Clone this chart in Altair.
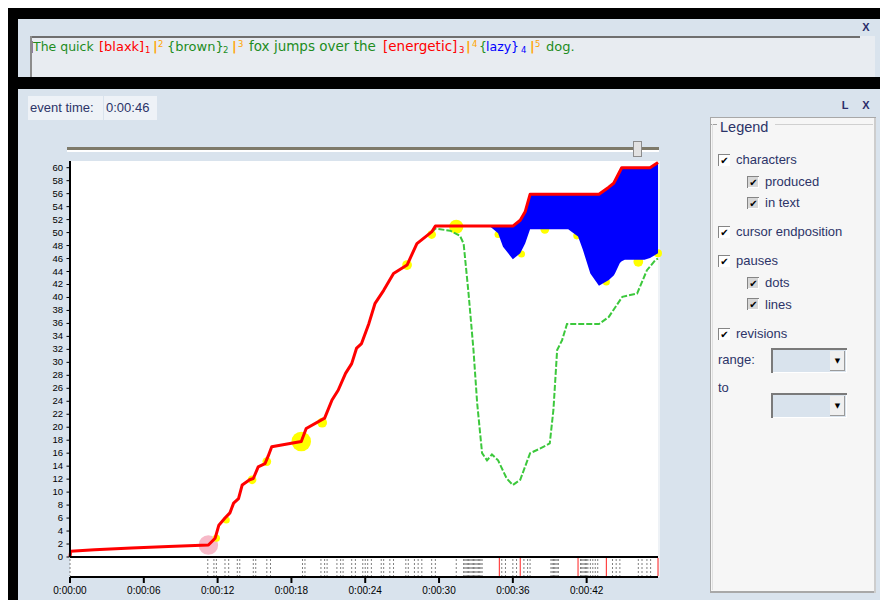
import altair as alt
import pandas as pd

# ---------------- chart values ----------------
# characters produced (red line): time [s], number of characters
produced_t = [0.0, 0.05, 2.0, 5.0, 8.0, 11.25, 11.8, 12.1, 12.6, 13.0, 13.3, 13.7, 14.0, 14.6, 14.9,
              15.3, 15.85, 16.1, 16.4, 18.8, 19.2, 20.7, 21.3, 21.8, 22.4, 22.9, 23.3, 23.7, 24.3,
              24.8, 25.5, 26.3, 27.4, 28.2, 29.4, 29.7, 36.0, 36.6, 37.0, 37.4, 43.0, 43.8, 44.2,
              44.85, 47.15, 47.8]
produced_v = [0.0, 0.9, 1.1, 1.4, 1.6, 1.85, 2.9, 4.9, 6.0, 6.8, 8.3, 9.0, 11.1, 11.9, 12.1,
              13.9, 14.4, 15.5, 17.0, 17.8, 19.8, 21.4, 24.2, 25.7, 28.3, 29.8, 32.2, 32.9, 36.0,
              39.1, 41.1, 43.7, 45.0, 48.3, 50.1, 51.0, 51.0, 51.9, 53.2, 55.9, 55.9, 57.0, 57.6,
              60.0, 60.0, 60.8]

# revisions (blue band between characters produced and characters in text)
revision_t = [34.1, 34.8, 35.2, 36.0, 36.6, 37.0, 37.4, 40.5, 41.3, 41.7, 42.3, 43.0, 43.8, 44.2,
              44.3, 44.7, 44.85, 45.1, 46.7, 47.15, 47.8]
revision_produced = [51.0, 51.0, 51.0, 51.0, 51.9, 53.2, 55.9, 55.9, 55.9, 55.9, 55.9, 55.9, 57.0,
                     57.6, 57.9, 59.5, 60.0, 60.0, 60.0, 60.0, 60.8]
revision_in_text = [51.0, 49.9, 47.8, 45.9, 46.8, 48.3, 50.5, 50.5, 49.4, 47.3, 43.7, 41.8, 42.7,
                    43.4, 43.7, 45.3, 45.6, 45.8, 45.8, 46.1, 46.8]

# cursor end position (green dashed line)
cursor_t = [29.4, 29.7, 30.9, 31.7, 32.0, 32.4, 32.8, 33.1, 33.5, 33.9, 34.3, 34.8, 35.5, 36.0,
            36.6, 37.4, 38.2, 39.0, 39.3, 39.6, 40.0, 40.4, 43.0, 43.8, 44.9, 46.1, 46.9, 47.6, 47.8]
cursor_v = [50.1, 50.6, 50.3, 49.5, 48.3, 40.6, 31.9, 23.7, 16.0, 14.9, 15.8, 14.9, 12.1, 11.1,
            11.9, 16.0, 16.7, 17.5, 22.7, 31.9, 33.4, 35.9, 35.9, 37.0, 40.1, 40.6, 44.2, 45.8, 46.0]

# pauses (yellow dots): time, level, pause length [s]
pause_t = [11.9, 12.7, 14.8, 16.0, 18.8, 20.5, 27.4, 29.4, 31.4, 34.8, 36.7, 38.6, 41.2, 43.6, 46.2, 47.8]
pause_v = [2.9, 5.7, 11.9, 14.7, 17.8, 20.7, 45.0, 49.7, 50.9, 49.7, 46.7, 50.5, 49.5, 42.4, 45.5, 46.8]
pause_s = [0.8, 0.8, 1.2, 1.2, 6.0, 1.5, 1.5, 1.2, 3.2, 0.8, 0.8, 1.2, 0.8, 0.8, 1.5, 1.0]

# initial pause (pink dot)
start_pause_t = [11.25]
start_pause_v = [1.85]
start_pause_s = [6.0]

# keystrokes shown in the strip below the plot
key_t = [0.0, 11.2, 11.7, 11.9, 12.6, 12.9, 13.6, 13.8, 14.9, 15.1, 16.0, 16.3, 18.9, 19.1,
         20.4, 20.7, 20.9, 21.7, 22.0, 22.2, 22.9, 23.2, 23.8, 24.0, 24.2, 24.5, 25.3, 25.5,
         26.0, 26.3, 27.3, 27.5, 28.0, 28.3, 28.6, 29.4, 29.7, 31.4,
         32.0, 32.1, 32.2, 32.3, 32.4, 32.5, 32.6, 32.7, 32.8, 32.9, 33.0, 33.1, 33.2, 33.3,
         33.4, 33.5, 35.1, 35.4, 36.0, 36.3, 36.9, 37.2, 37.4,
         39.1, 39.2, 39.3, 39.4, 39.5, 39.6, 39.7,
         41.5, 41.6, 41.7, 41.8, 41.9, 42.0, 42.1, 42.3, 42.5, 42.7, 42.9,
         44.1, 44.4, 44.7, 46.2, 46.5, 46.9, 47.2]
revision_key_t = [34.9, 36.6, 41.3, 43.6, 47.8]

x_tick_t = [0, 6, 12, 18, 24, 30, 36, 42]
x_tick_labels = ["0:00:00", "0:00:06", "0:00:12", "0:00:18", "0:00:24", "0:00:30", "0:00:36", "0:00:42"]
y_tick_v = [0, 2, 4, 6, 8, 10, 12, 14, 16, 18, 20, 22, 24, 26, 28, 30,
            32, 34, 36, 38, 40, 42, 44, 46, 48, 50, 52, 54, 56, 58, 60]

# ---------------- layout ----------------
W, H = 872, 592
OX, OY = 8, 8          # page offset of the canvas
PANEL = "#D9E3ED"
NAVY = "#2C3468"
GREEN = "#1E8C1E"
RED = "#FF0000"
ORANGE = "#FFA500"
BLUE = "#0000FF"

XS = alt.Scale(domain=[0, 47.8], range=[70 - OX, 658 - OX], nice=False, zero=False)
YS = alt.Scale(domain=[0, 60], range=[557 - OY, 167.7 - OY], nice=False, zero=False)


def box(rows, x1, y1, x2, y2, c):
    rows.append({"x": x1 - OX, "y": y1 - OY, "x2": x2 - OX, "y2": y2 - OY, "c": c})


def txt(rows, x, y, t, c, s):
    rows.append({"x": x - OX, "y": y - OY, "t": t, "c": c, "s": s})


def rect_layer(rows):
    return alt.Chart(pd.DataFrame(rows)).mark_rect(strokeWidth=0).encode(
        x=alt.X("x:Q", scale=None, axis=None), x2="x2:Q",
        y=alt.Y("y:Q", scale=None, axis=None), y2="y2:Q",
        color=alt.Color("c:N", scale=None, legend=None))


def text_layer(rows, align="left", font="Liberation Sans", weight="normal"):
    return alt.Chart(pd.DataFrame(rows)).mark_text(
        align=align, baseline="middle", font=font, fontWeight=weight).encode(
        x=alt.X("x:Q", scale=None, axis=None), y=alt.Y("y:Q", scale=None, axis=None),
        text="t:N", color=alt.Color("c:N", scale=None, legend=None),
        size=alt.Size("s:Q", scale=None, legend=None))


# background chrome
bg = []
box(bg, 0, 0, 900, 620, "#000000")
box(bg, 18, 19, 900, 77, PANEL)
box(bg, 30, 36, 875, 77, "#E8ECF1")
box(bg, 30, 36, 860, 38, "#6F6F6F")
box(bg, 30, 36, 32, 77, "#8C8C8C")
box(bg, 32, 41, 33, 53, "#8E7E9E")
box(bg, 18, 89, 900, 603, PANEL)
box(bg, 28, 96, 103, 120, "#EEF2F7")
box(bg, 104, 96, 157, 120, "#EEF2F7")
box(bg, 67, 147, 659, 150, "#7E7A6A")
box(bg, 67, 150, 659, 152, "#FFFFFF")
box(bg, 633, 141, 642, 157, "#8C8C8C")
box(bg, 634, 142, 641, 156, "#E2E2E2")
box(bg, 70, 161, 658, 577, "#FFFFFF")
box(bg, 658, 161, 660, 577, "#EEF2F6")
box(bg, 710, 117, 876, 593, "#A8A8A8")
box(bg, 711, 118, 874, 591, "#F6F6F6")
box(bg, 874, 118, 876, 593, "#CDCDCD")
box(bg, 711, 124, 717, 125, "#A0A0A0")
box(bg, 775, 124, 873, 125, "#D0D0D0")
box(bg, 712, 124, 713, 590, "#E0E0E0")

# foreground chrome (axis lines, checkboxes, dropdowns)
fg = []
box(fg, 69, 161, 71, 557, "#000000")
box(fg, 70, 556, 658, 558, "#000000")
box(fg, 70, 576, 658, 578, "#000000")

checks = []
for (cx, cy, sub) in [(718, 154, False), (747, 176, True), (747, 197, True), (718, 226, False),
                      (718, 255, False), (747, 277, True), (747, 298, True), (718, 328, False)]:
    box(fg, cx, cy, cx + 12, cy + 12, "#858585")
    box(fg, cx + 1, cy + 1, cx + 12, cy + 12, "#FFFFFF")
    box(fg, cx + 1, cy + 1, cx + 11, cy + 11, "#D8D8D8" if sub else "#FFFFFF")
    txt(checks, cx + 6.5, cy + 6.5, "\u2714", "#000000", 10)

for dy in [348, 393]:
    box(fg, 771, dy, 847, dy + 25, "#7A7A7A")
    box(fg, 773, dy + 2, 847, dy + 25, "#FFFFFF")
    box(fg, 773, dy + 2, 846, dy + 24, PANEL)
    box(fg, 830, dy + 3, 845, dy + 23, "#9A9A9A")
    box(fg, 830, dy + 3, 844, dy + 22, "#F0F0F0")
    txt(checks, 837.5, dy + 13, "\u25BC", "#000000", 7)

# texts
top_n, top_b, ui, bold = [], [], [], []
TY = 47
top_segments = [
    (33, "The quick", GREEN, 0, 12.5), (99, "[blaxk]", RED, 0, 13), (145, "1", RED, 1, 8.5),
    (153, "|", ORANGE, 0, 13), (158, "2", ORANGE, -1, 8.5), (167, "{brown}", GREEN, 0, 13),
    (223, "2", GREEN, 1, 8.5), (232, "|", ORANGE, 0, 13), (238, "3", ORANGE, -1, 8.5),
    (249, "fox jumps over the", GREEN, 0, 13.5), (383, "[energetic]", RED, 0, 13.5),
    (459, "3", RED, 1, 8.5), (466, "|", ORANGE, 0, 13), (472, "4", ORANGE, -1, 8.5),
    (479, "{", GREEN, 0, 12.5), (486, "lazy}", BLUE, 0, 12.5), (521, "4", BLUE, 1, 8.5),
    (530, "|", ORANGE, 0, 13), (535, "5", ORANGE, -1, 8.5), (546, "dog.", GREEN, 0, 13),
]
for (sx, st, sc, kind, fs) in top_segments:
    if st == "|":
        txt(top_b, sx, TY, st, sc, fs)
    else:
        txt(top_n, sx, TY + 3 * kind, st, sc, fs)

txt(ui, 30, 108, "event time:", NAVY, 13)
txt(ui, 106, 108, "0:00:46", NAVY, 13)
txt(ui, 720, 128, "Legend", NAVY, 14.5)
for (lx, ly, lt) in [(736, 160, "characters"), (765, 182, "produced"), (765, 203, "in text"),
                     (736, 232, "cursor endposition"), (736, 261, "pauses"), (765, 283, "dots"),
                     (765, 305, "lines"), (736, 334, "revisions"), (718, 360, "range:"),
                     (718, 388, "to")]:
    txt(ui, lx, ly, lt, NAVY, 13)
txt(bold, 866, 28, "X", "#2B2E6B", 11)
txt(bold, 845, 106, "L", "#2B2E6B", 11)
txt(bold, 866, 106, "X", "#2B2E6B", 11)

# ---------------- data layers ----------------
prod_df = pd.DataFrame({"t": produced_t, "v": produced_v})
rev_df = pd.DataFrame({"t": revision_t, "top": revision_produced, "low": revision_in_text})
cur_df = pd.DataFrame({"t": cursor_t, "v": cursor_v})
pause_df = pd.DataFrame({"t": pause_t, "v": pause_v, "s": pause_s})
start_df = pd.DataFrame({"t": start_pause_t, "v": start_pause_v, "s": start_pause_s})
key_df = pd.DataFrame({"t": key_t})
rkey_df = pd.DataFrame({"t": revision_key_t})
xt_df = pd.DataFrame({"t": x_tick_t, "lab": x_tick_labels})
yt_df = pd.DataFrame({"v": y_tick_v, "lab": [str(v) for v in y_tick_v]})

SIZE = alt.Scale(domain=[0, 6], range=[0, 380])

start_dot = alt.Chart(start_df).mark_circle(color="#F7B9C8", opacity=1).encode(
    x=alt.X("t:Q", scale=XS, axis=None), y=alt.Y("v:Q", scale=YS, axis=None),
    size=alt.Size("s:Q", scale=SIZE, legend=None))
pause_dots = alt.Chart(pause_df).mark_circle(color="#FFFF00", opacity=1).encode(
    x=alt.X("t:Q", scale=XS, axis=None), y=alt.Y("v:Q", scale=YS, axis=None),
    size=alt.Size("s:Q", scale=SIZE, legend=None))
band = alt.Chart(rev_df).mark_area(color=BLUE, opacity=1).encode(
    x=alt.X("t:Q", scale=XS, axis=None), y=alt.Y("top:Q", scale=YS, axis=None), y2="low:Q")
cursor = alt.Chart(cur_df).mark_line(color="#3CC83C", strokeWidth=2, strokeDash=[6, 2]).encode(
    x=alt.X("t:Q", scale=XS, axis=None), y=alt.Y("v:Q", scale=YS, axis=None))
produced = alt.Chart(prod_df).mark_line(color=RED, strokeWidth=3, strokeJoin="round").encode(
    x=alt.X("t:Q", scale=XS, axis=None), y=alt.Y("v:Q", scale=YS, axis=None))
keys = alt.Chart(key_df).mark_rule(color="#7F7F7F", strokeWidth=1, strokeDash=[2, 2]).encode(
    x=alt.X("t:Q", scale=XS, axis=None), y=alt.value(559 - OY), y2=alt.value(576 - OY))
rkeys = alt.Chart(rkey_df).mark_rule(color="#FF2020", strokeWidth=1).encode(
    x=alt.X("t:Q", scale=XS, axis=None), y=alt.value(558 - OY), y2=alt.value(576 - OY))
xticks = alt.Chart(xt_df).mark_rule(color="#000000", strokeWidth=2).encode(
    x=alt.X("t:Q", scale=XS, axis=None), y=alt.value(577 - OY), y2=alt.value(583 - OY))
xlabels = alt.Chart(xt_df).mark_text(font="Liberation Sans", fontSize=10, color="#000000",
                                     align="center", baseline="middle").encode(
    x=alt.X("t:Q", scale=XS, axis=None), y=alt.value(591 - OY), text="lab:N")
yticks = alt.Chart(yt_df).mark_rule(color="#000000", strokeWidth=1).encode(
    y=alt.Y("v:Q", scale=YS, axis=None), x=alt.value(66.5 - OX), x2=alt.value(69.5 - OX))
ylabels = alt.Chart(yt_df).mark_text(font="Liberation Sans", fontSize=9.5, color="#000000",
                                     align="right", baseline="middle").encode(
    y=alt.Y("v:Q", scale=YS, axis=None), x=alt.value(63 - OX), text="lab:N")

chart = alt.layer(
    rect_layer(bg),
    start_dot, pause_dots, band, cursor, produced,
    keys, rkeys,
    rect_layer(fg),
    xticks, xlabels, yticks, ylabels,
    text_layer(top_n, font="DejaVu Sans"),
    text_layer(top_b, font="DejaVu Sans", weight="bold"),
    text_layer(ui),
    text_layer(bold, align="center", weight="bold"),
    text_layer(checks, align="center", font="DejaVu Sans"),
).resolve_scale(
    x="independent", y="independent", color="independent", size="independent"
).properties(
    width=W, height=H, padding=0, autosize=alt.AutoSizeParams(type="none")
).configure_view(strokeWidth=0)

chart.save("out.html", embed_options={"renderer": "svg", "actions": False})
